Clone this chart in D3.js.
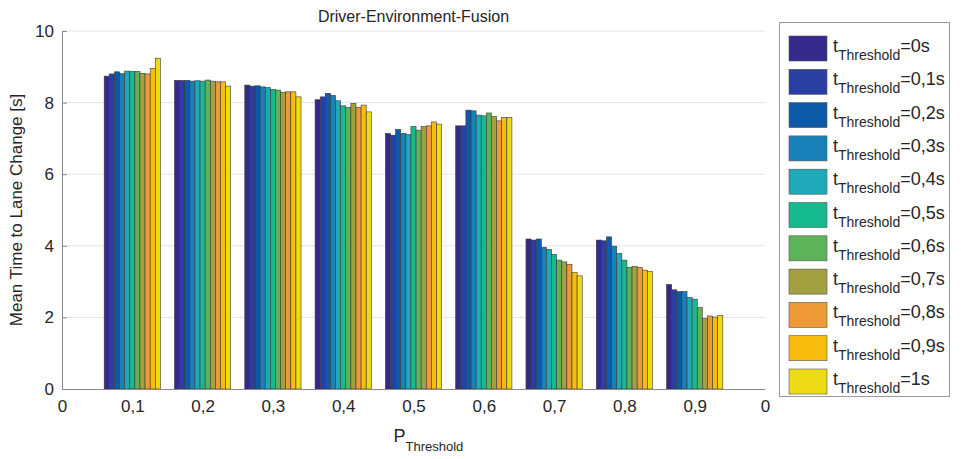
<!DOCTYPE html>
<html>
<head>
<meta charset="utf-8">
<script src="https://cdn.jsdelivr.net/npm/d3@7"></script>
<style>
  html, body { margin: 0; padding: 0; background: #fff; }
  svg { display: block; font-family: "Liberation Sans", Arial, sans-serif; }
</style>
</head>
<body>
<svg id="chart" width="961" height="459"></svg>
<script>
// P_Threshold categories (x positions 1..9), tick labels 0..10
const categories = [1, 2, 3, 4, 5, 6, 7, 8, 9];
const xTickValues = [0, 1, 2, 3, 4, 5, 6, 7, 8, 9, 10];
const xTickLabels = ["0", "0,1", "0,2", "0,3", "0,4", "0,5", "0,6", "0,7", "0,8", "0,9", "0"];
const yTickValues = [0, 2, 4, 6, 8, 10];

// t_Threshold series names
const seriesNames = ["0s", "0,1s", "0,2s", "0,3s", "0,4s", "0,5s", "0,6s", "0,7s", "0,8s", "0,9s", "1s"];
const seriesColors = ["#352a8c", "#2a3fa3", "#0d5aa9", "#1981b9", "#1da9b8", "#17b98f",
                      "#5db357", "#a2a03f", "#ee9b37", "#f8bc0d", "#eedb18"];

// Mean time to lane change [s], one array per P_Threshold group (series in order 0s..1s)
const p01 = [8.74, 8.80, 8.86, 8.81, 8.88, 8.87, 8.87, 8.82, 8.80, 8.95, 9.24];
const p02 = [8.62, 8.62, 8.62, 8.60, 8.61, 8.60, 8.63, 8.60, 8.58, 8.58, 8.46];
const p03 = [8.49, 8.46, 8.47, 8.44, 8.42, 8.37, 8.35, 8.29, 8.30, 8.30, 8.16];
const p04 = [8.08, 8.16, 8.26, 8.20, 8.05, 7.91, 7.87, 7.98, 7.87, 7.93, 7.74];
const p05 = [7.14, 7.09, 7.25, 7.14, 7.11, 7.33, 7.23, 7.33, 7.35, 7.46, 7.40];
const p06 = [7.35, 7.35, 7.79, 7.77, 7.65, 7.63, 7.71, 7.61, 7.49, 7.58, 7.59];
const p07 = [4.19, 4.16, 4.19, 3.96, 3.90, 3.76, 3.60, 3.55, 3.48, 3.25, 3.16];
const p08 = [4.16, 4.14, 4.25, 3.99, 3.79, 3.60, 3.40, 3.42, 3.40, 3.32, 3.28];
const p09 = [2.92, 2.77, 2.72, 2.72, 2.56, 2.51, 2.28, 1.97, 2.04, 2.01, 2.05];
const groups = [p01, p02, p03, p04, p05, p06, p07, p08, p09];

const svg = d3.select("#chart");
const plot = { left: 62, right: 765, top: 31, bottom: 389 };

const x = d3.scaleLinear().domain([0, 10]).range([plot.left, plot.right]);
const y = d3.scaleLinear().domain([0, 10]).range([plot.bottom, plot.top]);
const groupWidth = (x(1) - x(0)) * 0.8;
const inner = d3.scaleBand().domain(d3.range(seriesNames.length)).range([-groupWidth / 2, groupWidth / 2]).padding(0);

// grid lines
svg.append("g")
  .selectAll("line")
  .data(yTickValues.filter(d => d > 0))
  .join("line")
  .attr("x1", plot.left).attr("x2", plot.right)
  .attr("y1", d => y(d)).attr("y2", d => y(d))
  .attr("stroke", "#e4e4e4").attr("stroke-width", 1);

// bars
const gGroups = svg.append("g")
  .selectAll("g")
  .data(groups)
  .join("g")
  .attr("transform", (d, i) => `translate(${x(categories[i])},0)`);

gGroups.selectAll("rect")
  .data(d => d)
  .join("rect")
  .attr("x", (d, j) => inner(j))
  .attr("width", inner.bandwidth())
  .attr("y", d => y(d))
  .attr("height", d => y(0) - y(d))
  .attr("fill", (d, j) => seriesColors[j])
  .attr("stroke", "#3a3a3a")
  .attr("stroke-width", 0.6);

// axes
const xAxis = d3.axisBottom(x).tickValues(xTickValues)
  .tickFormat((d, i) => xTickLabels[i]).tickSize(0).tickPadding(11);
const gx = svg.append("g").attr("transform", `translate(0,${plot.bottom})`).call(xAxis);
gx.select(".domain").attr("stroke", "#8a8a8a");
gx.selectAll("text").attr("font-size", 17).attr("fill", "#262626");

const yAxis = d3.axisLeft(y).tickValues(yTickValues).tickSize(-5).tickPadding(8);
const gy = svg.append("g").attr("transform", `translate(${plot.left},0)`).call(yAxis);
gy.select(".domain").attr("stroke", "#8a8a8a");
gy.selectAll(".tick line").attr("stroke", "#8a8a8a");
gy.selectAll("text").attr("font-size", 17).attr("fill", "#262626");

// title
svg.append("text")
  .attr("x", (plot.left + plot.right) / 2).attr("y", 22)
  .attr("text-anchor", "middle").attr("font-size", 16).attr("fill", "#262626")
  .text("Driver-Environment-Fusion");

// y-axis label
svg.append("text")
  .attr("transform", `translate(22,${(plot.top + plot.bottom) / 2}) rotate(-90)`)
  .attr("text-anchor", "middle").attr("font-size", 17).attr("fill", "#262626")
  .text("Mean Time to Lane Change [s]");

// x-axis label with subscript
const xl = svg.append("text")
  .attr("x", (plot.left + plot.right) / 2 - 20).attr("y", 442)
  .attr("font-size", 18).attr("fill", "#262626");
xl.append("tspan").text("P");
xl.append("tspan").attr("dy", 9).attr("font-size", 13).text("Threshold");

// legend
const legend = svg.append("g");
legend.append("rect")
  .attr("x", 779.5).attr("y", 22.5).attr("width", 170).attr("height", 374)
  .attr("fill", "#fff").attr("stroke", "#9a9a9a").attr("stroke-width", 1);

const item = legend.selectAll("g.item")
  .data(seriesNames)
  .join("g")
  .attr("class", "item")
  .attr("transform", (d, i) => `translate(789,${36 + i * 33.3})`);

item.append("rect")
  .attr("width", 38).attr("height", 25)
  .attr("fill", (d, i) => seriesColors[i])
  .attr("stroke", "#555").attr("stroke-width", 0.6);

const lt = item.append("text")
  .attr("x", 44).attr("y", 16)
  .attr("font-size", 18).attr("fill", "#262626");
lt.append("tspan").text("t");
lt.append("tspan").attr("dy", 8).attr("font-size", 14).text("Threshold");
lt.append("tspan").attr("dy", -8).text(d => "=" + d);
</script>
</body>
</html>
